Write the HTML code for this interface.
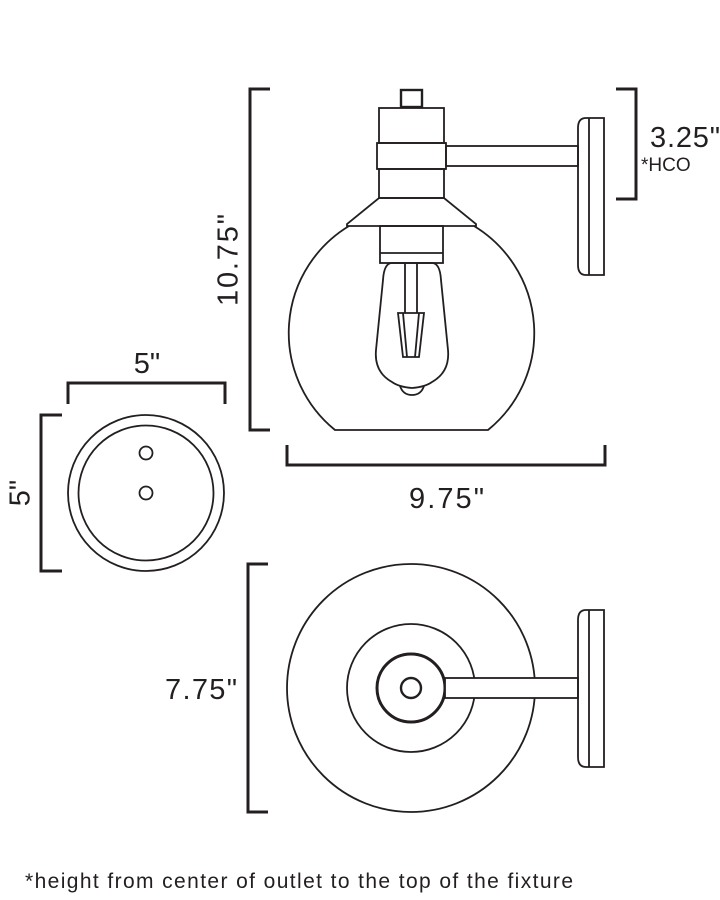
<!DOCTYPE html>
<html><head><style>
html,body{margin:0;padding:0;background:#fff;}
svg{display:block;}
text{font-family:"Liberation Sans",sans-serif;fill:#231f20;}
</style></head><body>
<svg width="720" height="900" viewBox="0 0 720 900" xmlns="http://www.w3.org/2000/svg">
<g fill="none" stroke="#231f20" stroke-width="3">
<path d="M270 89 H250 V430 H270"/>
<path d="M287 445 V465 H605 V445"/>
<path d="M616 89 H636 V199 H616"/>
<path d="M68 404 V383 H225 V404"/>
<path d="M62 415 H41 V571 H62"/>
<path d="M268 564 H248 V812 H268"/>
</g>
<g fill="none" stroke="#231f20" stroke-width="1.8">
<rect x="401" y="90" width="21" height="17" stroke-width="2.4"/>
<rect x="379" y="108" width="65" height="35"/>
<rect x="377" y="143" width="69" height="26"/>
<rect x="379" y="169" width="65" height="29"/>
<path d="M379 198 H444 L476 224 V226 H347 V224 Z"/>
<rect x="380" y="226" width="63" height="37"/>
<line x1="380" y1="253" x2="443" y2="253"/>
<rect x="446" y="146" width="132" height="20"/>
<path d="M589 118 H604 V275 H589 Z M589 118 H586 Q578 118 578 128 V265 Q578 275 586 275 H589"/>
<path d="M349 226 A125 125 0 0 0 335 430 H488 A125 125 0 0 0 474 226"/>
<path d="M392 263 H432 Q440 263 441 280 L448 350 Q450 372 432 382 Q425 387 412 388 Q399 387 392 382 Q374 372 376 350 L383 280 Q384 263 392 263 Z"/>
<path d="M400 386 Q403 395 412 395 Q421 395 424 386"/>
<path d="M405 263 V313 M417 263 V313"/>
<path d="M398 313 H424 L419 357 H403 Z M403 313 L407 357 M419 313 L415 357"/>
<circle cx="146" cy="493" r="78"/>
<circle cx="146" cy="493" r="67.5"/>
<circle cx="146" cy="453" r="6.5"/>
<circle cx="146" cy="493" r="6.5"/>
<circle cx="411" cy="688" r="124"/>
<circle cx="411" cy="688" r="64"/>
<circle cx="411" cy="688" r="34" stroke-width="3"/>
<circle cx="411" cy="688" r="10" stroke-width="2.4"/>
<rect x="445" y="678" width="133" height="20" fill="#fff"/>
<path d="M589 610 H604 V767 H589 Z M589 610 H586 Q578 610 578 620 V757 Q578 767 586 767 H589"/>
</g>
<g font-size="29">
<text x="230" y="260" text-anchor="middle" transform="rotate(-90 230 260)" dominant-baseline="middle" textLength="92">10.75"</text>
<text x="409" y="508" textLength="75">9.75"</text>
<text x="650" y="147" textLength="70">3.25"</text>
<text x="147" y="373" text-anchor="middle">5"</text>
<text x="22" y="493" text-anchor="middle" transform="rotate(-90 22 493)" dominant-baseline="middle">5"</text>
<text x="165" y="699" textLength="72">7.75"</text>
</g>
<text x="641" y="171" font-size="19">*HCO</text>
<text x="25" y="888" font-size="21" textLength="548">*height from center of outlet to the top of the fixture</text>
</svg>
</body></html>
